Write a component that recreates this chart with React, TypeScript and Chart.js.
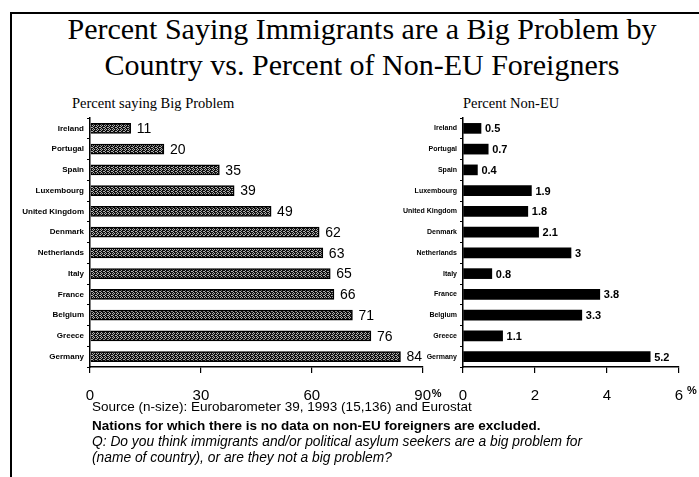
import React, { useEffect, useRef } from "react";
import { Chart, registerables } from "chart.js";

Chart.register(...registerables);

const countries = [
  "Ireland",
  "Portugal",
  "Spain",
  "Luxembourg",
  "United Kingdom",
  "Denmark",
  "Netherlands",
  "Italy",
  "France",
  "Belgium",
  "Greece",
  "Germany",
];
const bigProblem = [11, 20, 35, 39, 49, 62, 63, 65, 66, 71, 76, 84];
const nonEU = [0.5, 0.7, 0.4, 1.9, 1.8, 2.1, 3, 0.8, 3.8, 3.3, 1.1, 5.2];
const leftTicks = { min: 0, max: 90, step: 30 };
const rightTicks = { min: 0, max: 6, step: 2 };

const SANS = "Arial, 'Liberation Sans', sans-serif";
const SERIF = "'Times New Roman', 'Liberation Serif', serif";

function makePattern(ctx: CanvasRenderingContext2D): CanvasPattern | string {
  const c = document.createElement("canvas");
  c.width = 4;
  c.height = 4;
  const p = c.getContext("2d");
  if (!p) return "#666";
  p.fillStyle = "#b0b0b0";
  p.fillRect(0, 0, 4, 4);
  p.fillStyle = "#111";
  const dots = [
    [0, 0], [2, 0], [3, 0], [1, 1], [3, 1], [0, 2], [2, 2], [3, 2], [1, 3], [2, 3],
  ];
  dots.forEach(([x, y]) => p.fillRect(x, y, 1, 1));
  return ctx.createPattern(c, "repeat") || "#666";
}

function valueLabelPlugin(font: string, offset: number, fmt: (v: number) => string) {
  return {
    id: "valueLabels",
    afterDatasetsDraw(chart: any) {
      const ctx = chart.ctx;
      const meta = chart.getDatasetMeta(0);
      const data = chart.data.datasets[0].data as number[];
      ctx.save();
      ctx.font = font;
      ctx.fillStyle = "#000";
      ctx.textAlign = "left";
      ctx.textBaseline = "middle";
      meta.data.forEach((el: any, i: number) => {
        ctx.fillText(fmt(data[i]), el.x + offset, el.y + 1);
      });
      ctx.restore();
    },
  };
}

function percentPlugin(tickValue: number, dx: number, dy: number) {
  return {
    id: "percentSign",
    afterDraw(chart: any) {
      const scale = chart.scales.x;
      const ctx = chart.ctx;
      const x = scale.getPixelForValue(tickValue);
      ctx.save();
      ctx.font = `bold 11px ${SANS}`;
      ctx.fillStyle = "#000";
      ctx.textAlign = "left";
      ctx.textBaseline = "top";
      ctx.fillText("%", x + dx, scale.top + dy);
      ctx.restore();
    },
  };
}

function BarPanel(props: {
  values: number[];
  left: number;
  width: number;
  yWidth: number;
  padRight: number;
  ticks: { min: number; max: number; step: number };
  patterned: boolean;
  labelFont: number;
  valueFont: string;
  valueOffset: number;
  fmt: (v: number) => string;
  pct: { dx: number; dy: number };
}) {
  const ref = useRef<HTMLCanvasElement>(null);
  useEffect(() => {
    const canvas = ref.current;
    if (!canvas) return;
    const ctx = canvas.getContext("2d");
    if (!ctx) return;
    const fill = props.patterned ? makePattern(ctx) : "#000";
    const chart = new Chart(ctx, {
      type: "bar",
      data: {
        labels: countries,
        datasets: [
          {
            data: props.values,
            backgroundColor: fill as any,
            borderColor: "#000",
            borderWidth: props.patterned ? 1.5 : 0,
            barThickness: 10,
          },
        ],
      },
      options: {
        indexAxis: "y",
        animation: false,
        responsive: false,
        maintainAspectRatio: false,
        layout: { padding: { top: 18, right: props.padRight, left: 0, bottom: 0 } },
        plugins: { legend: { display: false }, tooltip: { enabled: false } },
        scales: {
          x: {
            min: props.ticks.min,
            max: props.ticks.max,
            afterFit(scale: any) {
              scale.height = 53;
            },
            ticks: {
              stepSize: props.ticks.step,
              padding: 14,
              color: "#000",
              font: { family: SANS, size: 15 },
              callback: (v: any) => String(v),
              maxRotation: 0,
            },
            grid: {
              drawOnChartArea: false,
              color: "#000",
              tickLength: 6,
              lineWidth: 1.2,
            },
            border: { color: "#000", width: 1.5 },
          },
          y: {
            afterFit(scale: any) {
              scale.width = props.yWidth;
            },
            ticks: {
              padding: 3,
              color: "#000",
              font: { family: SANS, size: props.labelFont, weight: "bold" },
              autoSkip: false,
            },
            grid: {
              drawOnChartArea: false,
              color: "#000",
              tickLength: 3,
              lineWidth: 1,
            },
            border: { color: "#000", width: 1.5 },
          },
        },
      },
      plugins: [
        valueLabelPlugin(props.valueFont, props.valueOffset, props.fmt),
        percentPlugin(props.ticks.max, props.pct.dx, props.pct.dy),
      ],
    });
    return () => chart.destroy();
  }, []);
  return (
    <canvas
      ref={ref}
      width={props.width}
      height={320}
      style={{ position: "absolute", left: props.left, top: 100, width: props.width, height: 320 }}
    />
  );
}

export default function App() {
  useEffect(() => {
    document.body.style.margin = "0";
  }, []);
  const lineStyle: React.CSSProperties = {
    position: "absolute",
    left: 92,
    fontFamily: SANS,
    fontSize: 13.5,
    lineHeight: "14px",
    whiteSpace: "nowrap",
    color: "#000",
  };
  return (
    <div style={{ position: "relative", width: 699, height: 477, overflow: "hidden", background: "#fff" }}>
      <div style={{ position: "absolute", left: 10, top: 12, width: 689, height: 2, background: "#000" }} />
      <div style={{ position: "absolute", left: 10, top: 12, width: 2, height: 465, background: "#000" }} />
      <div
        style={{
          position: "absolute",
          left: 12,
          top: 11,
          width: 700,
          textAlign: "center",
          fontFamily: SERIF,
          fontSize: 30,
          lineHeight: "36px",
          color: "#000",
        }}
      >
        Percent Saying Immigrants are a Big Problem by
        <br />
        Country vs. Percent of Non-EU Foreigners
      </div>
      <div style={{ position: "absolute", left: 72, top: 96, fontFamily: SERIF, fontSize: 14.5, lineHeight: "15px", whiteSpace: "nowrap" }}>
        Percent saying Big Problem
      </div>
      <div style={{ position: "absolute", left: 463, top: 96, fontFamily: SERIF, fontSize: 14.5, lineHeight: "15px", whiteSpace: "nowrap" }}>
        Percent Non-EU
      </div>
      <BarPanel
        values={bigProblem}
        left={0}
        width={445}
        yWidth={90}
        padRight={21}
        ticks={leftTicks}
        patterned={true}
        labelFont={8}
        valueFont={`14px ${SANS}`}
        valueOffset={6}
        fmt={(v) => String(v)}
        pct={{ dx: 9, dy: 21 }}
      />
      <BarPanel
        values={nonEU}
        left={380}
        width={319}
        yWidth={83}
        padRight={20}
        ticks={rightTicks}
        patterned={false}
        labelFont={7}
        valueFont={`bold 11px ${SANS}`}
        valueOffset={4}
        fmt={(v) => String(v)}
        pct={{ dx: 8, dy: 18 }}
      />
      <div style={{ ...lineStyle, top: 400 }}>
        Source (n-size): Eurobarometer 39, 1993 (15,136) and Eurostat
      </div>
      <div style={{ ...lineStyle, top: 419, fontWeight: "bold" }}>
        Nations for which there is no data on non-EU foreigners are excluded.
      </div>
      <div style={{ ...lineStyle, top: 435, fontSize: 13.8, fontStyle: "italic" }}>
        Q: Do you think immigrants and/or political asylum seekers are a big problem for
      </div>
      <div style={{ ...lineStyle, top: 451, fontSize: 13.8, fontStyle: "italic" }}>
        (name of country), or are they not a big problem?
      </div>
    </div>
  );
}
